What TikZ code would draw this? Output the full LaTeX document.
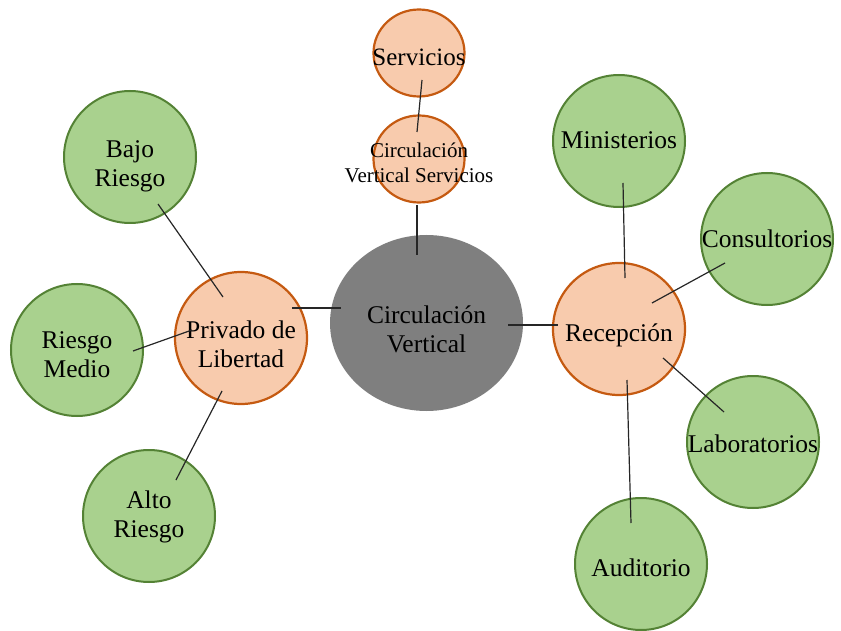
\documentclass[tikz,border=0pt]{standalone}
\usepackage{fontspec}
\setmainfont{Liberation Serif}
\usetikzlibrary{shapes.geometric,calc}
\definecolor{gfill}{HTML}{A9D18E}
\definecolor{gborder}{HTML}{548235}
\definecolor{ofill}{HTML}{F8CBAD}
\definecolor{oborder}{HTML}{C55A11}
\definecolor{grayc}{HTML}{7F7F7F}
\begin{document}
\begin{tikzpicture}[x=1pt,y=-1pt,
  txtdrop/.style={text height=#1, text depth=0pt},
  greenc/.style={circle, draw=gborder, fill=gfill, line width=2pt, minimum size=132pt, inner sep=0pt, align=center, font=\fontsize{25.5}{29}\selectfont},
  orangec/.style={circle, draw=oborder, fill=ofill, line width=2.2pt, minimum size=132pt, inner sep=0pt, align=center, font=\fontsize{25.5}{29}\selectfont},
  smallo/.style={ellipse, draw=oborder, fill=ofill, line width=2.2pt, minimum width=91pt, minimum height=87pt, inner sep=0pt, align=center},
  grayell/.style={ellipse, fill=grayc, minimum width=193pt, minimum height=176pt, inner sep=0pt, align=center, font=\fontsize{25.5}{29}\selectfont},
  link/.style={draw=black!85, line width=1.2pt}]
\useasboundingbox (0,0) rectangle (841,631);
% nodes
\node[smallo, txtdrop=25pt] (serv) at (419,53) {\makebox[0pt]{\fontsize{25}{29}\selectfont Servicios}};
\node[smallo, txtdrop=48pt] (cvs) at (419,159) {\makebox[0pt]{\fontsize{21}{25}\selectfont\begin{tabular}[b]{@{}c@{}}Circulación\\Vertical Servicios\end{tabular}}};
\node[grayell, txtdrop=59pt] (cv) at (426.5,323) {Circulación\\Vertical};
\node[orangec, txtdrop=58pt] (pl) at (241,338) {Privado de\\Libertad};
\node[orangec, txtdrop=25pt] (rec) at (619,329) {Recepción};
\node[greenc, txtdrop=60pt] (bajo) at (130,157) {Bajo\\Riesgo};
\node[greenc, txtdrop=55pt] (medio) at (77,350) {Riesgo\\Medio};
\node[greenc, txtdrop=42pt] (alto) at (149,516) {Alto\\Riesgo};
\node[greenc, txtdrop=16pt] (mini) at (619,141) {Ministerios};
\node[greenc, txtdrop=18pt] (cons) at (767,239) {Consultorios};
\node[greenc, txtdrop=20pt] (lab) at (753,442) {Laboratorios};
\node[greenc, txtdrop=25pt] (aud) at (641,564) {Auditorio};
% connector end points, relative to the nodes
\coordinate (s1) at ($(serv)+(3,27)$);
\coordinate (s2) at ($(cvs)+(-2,-27)$);
\coordinate (c1) at ($(cvs)+(-2,46)$);
\coordinate (c2) at ($(cv)+(-9.5,-68)$);
\coordinate (p1) at ($(pl)+(51,-30)$);
\coordinate (p2) at ($(cv)+(-85.5,-15)$);
\coordinate (r1) at ($(cv)+(81.5,2)$);
\coordinate (r2) at ($(rec)+(-61,-4)$);
\coordinate (m1) at ($(mini)+(4,42)$);
\coordinate (m2) at ($(rec)+(6,-51)$);
\coordinate (k1) at ($(cons)+(-42,24)$);
\coordinate (k2) at ($(rec)+(33,-26)$);
\coordinate (l1) at ($(rec)+(44,29)$);
\coordinate (l2) at ($(lab)+(-29,-30)$);
\coordinate (a1) at ($(rec)+(8,51)$);
\coordinate (a2) at ($(aud)+(-10,-41)$);
\coordinate (b1) at ($(bajo)+(28,47)$);
\coordinate (b2) at ($(pl)+(-18,-41)$);
\coordinate (d1) at ($(medio)+(56,1)$);
\coordinate (d2) at ($(pl)+(-49,-8)$);
\coordinate (t1) at ($(alto)+(27,-36)$);
\coordinate (t2) at ($(pl)+(-19,53)$);
% connectors
\draw[link] (s1) -- (s2);
\draw[link] (c1) -- (c2);
\draw[link] (p1) -- (p2);
\draw[link] (r1) -- (r2);
\draw[link] (m1) -- (m2);
\draw[link] (k1) -- (k2);
\draw[link] (l1) -- (l2);
\draw[link] (a1) -- (a2);
\draw[link] (b1) -- (b2);
\draw[link] (d1) -- (d2);
\draw[link] (t1) -- (t2);
\end{tikzpicture}
\end{document}
